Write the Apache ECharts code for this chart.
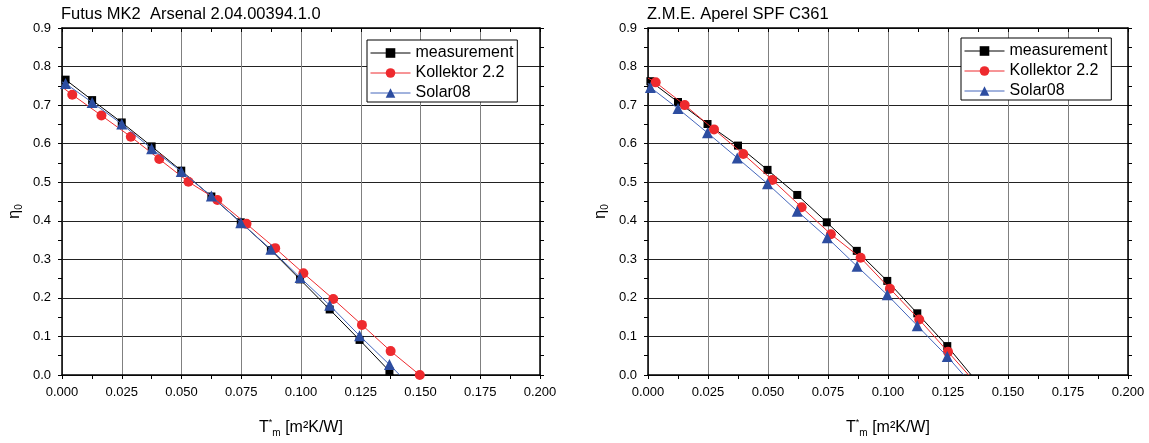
<!DOCTYPE html>
<html><head><meta charset="utf-8">
<script src="https://cdn.jsdelivr.net/npm/echarts@6/dist/echarts.min.js"></script>
<style>html,body{margin:0;padding:0;background:#fff}#c{width:1149px;height:443px}</style>
</head><body><div id="c"></div>
<script>
const leftTitle = 'Futus MK2  Arsenal 2.04.00394.1.0';
const rightTitle = 'Z.M.E. Aperel SPF C361';
const seriesNames = ['measurement', 'Kollektor 2.2', 'Solar08'];
const xAxisName = 'T{sup|*}{sub|m} [m²K/W]';
const yAxisName = 'η{sub|0}';

// Left chart: Futus MK2
const leftMeasX = [0.0015, 0.0126, 0.025, 0.0375, 0.0499, 0.0625, 0.0748, 0.0874, 0.0996, 0.112, 0.1245, 0.137];
const leftMeasY = [0.766, 0.713, 0.655, 0.593, 0.530, 0.463, 0.396, 0.324, 0.248, 0.170, 0.091, 0.010];
const leftMeasEnds = [[0, 0.770], [0.1388, 0]];
const leftKollX = [0.0043, 0.0165, 0.0288, 0.0407, 0.0529, 0.065, 0.0772, 0.0892, 0.101, 0.1135, 0.1255, 0.1375, 0.1497];
const leftKollY = [0.727, 0.673, 0.618, 0.560, 0.501, 0.454, 0.392, 0.329, 0.264, 0.197, 0.130, 0.062, 0.0];
const leftKollEnds = [[0, 0.747], null];
const leftSolarX = [0.0015, 0.0126, 0.025, 0.0375, 0.0499, 0.0625, 0.0748, 0.0874, 0.0996, 0.112, 0.1245, 0.137];
const leftSolarY = [0.756, 0.707, 0.651, 0.587, 0.528, 0.464, 0.395, 0.326, 0.253, 0.181, 0.102, 0.027];
const leftSolarEnds = [[0, 0.760], [0.1413, 0]];

// Right chart: Z.M.E. Aperel
const rightMeasX = [0.001, 0.0125, 0.0248, 0.0375, 0.0498, 0.0622, 0.0745, 0.087, 0.0997, 0.1122, 0.1247];
const rightMeasY = [0.762, 0.708, 0.651, 0.595, 0.532, 0.467, 0.396, 0.322, 0.244, 0.160, 0.075];
const rightMeasEnds = [[0, 0.772], [0.1347, 0]];
const rightKollX = [0.0032, 0.0153, 0.0275, 0.0397, 0.0518, 0.064, 0.0762, 0.0886, 0.1008, 0.113, 0.125];
const rightKollY = [0.759, 0.700, 0.637, 0.573, 0.506, 0.435, 0.365, 0.304, 0.224, 0.144, 0.060];
const rightKollEnds = [[0, 0.770], [0.1336, 0]];
const rightSolarX = [0.001, 0.0125, 0.0248, 0.0372, 0.0498, 0.0622, 0.0747, 0.0871, 0.0997, 0.1122, 0.1247];
const rightSolarY = [0.746, 0.691, 0.628, 0.563, 0.496, 0.425, 0.356, 0.282, 0.208, 0.128, 0.048];
const rightSolarEnds = [[0, 0.757], [0.1315, 0]];

const FONT = "'Liberation Sans', Arial, sans-serif";
const styles = [
  { color: '#000000', line: '#000000', symbol: 'rect', size: 8 },
  { color: '#ee2a2e', line: '#ee2a2e', symbol: 'circle', size: 10 },
  { color: '#2d4da0', line: '#4466bb', symbol: 'triangle', size: 11 }
];

function buildData(xs, ys, ends) {
  const d = [];
  if (ends[0]) d.push({ value: ends[0], symbol: 'none' });
  xs.forEach((x, i) => d.push([x, ys[i]]));
  if (ends[1]) d.push({ value: ends[1], symbol: 'none' });
  return d;
}
function mkSeries(idx, xs, ys, ends, axisIdx) {
  const s = styles[idx];
  return {
    type: 'line', name: seriesNames[idx], xAxisIndex: axisIdx, yAxisIndex: axisIdx,
    data: buildData(xs, ys, ends), symbol: s.symbol, symbolSize: s.size, showAllSymbol: true,
    itemStyle: { color: s.color }, lineStyle: { color: s.line, width: 1 },
    animation: false, clip: true, z: 3 + idx
  };
}

const grids = [
  { left: 62, top: 28, width: 478, height: 355.5 },
  { left: 648, top: 28, width: 480, height: 356 }
];

function bottomX(g) {
  return {
    type: 'value', gridIndex: g, position: 'bottom', min: 0, max: 0.2, interval: 0.025,
    name: xAxisName, nameLocation: 'middle', nameGap: 43,
    nameTextStyle: { fontFamily: FONT, fontSize: 16, color: '#000',
      rich: { sup: { fontSize: 9, verticalAlign: 'top', padding: [0, 0, 10, 0], fontFamily: FONT, color: '#000' },
              sub: { fontSize: 10, verticalAlign: 'bottom', padding: [10, 0, 0, 0], fontFamily: FONT, color: '#000' } } },
    axisLine: { onZero: false, lineStyle: { color: '#000', width: 1.5 } },
    axisTick: { show: true, inside: false, length: 4, lineStyle: { color: '#000' } },
    minorTick: { show: true, splitNumber: 2, length: 4, lineStyle: { color: '#000' } },
    axisLabel: { fontFamily: FONT, fontSize: 13, color: '#000', margin: 11, formatter: v => v.toFixed(3) },
    splitLine: { show: true, lineStyle: { color: '#808080', width: 1 } }
  };
}
function topX(g) {
  return {
    type: 'value', gridIndex: g, position: 'top', min: 0, max: 0.2, interval: 0.025,
    axisLine: { onZero: false, lineStyle: { color: '#000', width: 1.5 } },
    axisTick: { show: true, inside: true, length: 4, lineStyle: { color: '#000' } },
    minorTick: { show: true, splitNumber: 2, length: 4, lineStyle: { color: '#000' } },
    axisLabel: { show: false }, splitLine: { show: false }
  };
}
function leftY(g) {
  return {
    type: 'value', gridIndex: g, position: 'left', min: 0, max: 0.9, interval: 0.1,
    name: yAxisName, nameLocation: 'middle', nameGap: 38, nameRotate: 90,
    nameTextStyle: { fontFamily: FONT, fontSize: 16, color: '#000', padding: [0, 20, 0, 0],
      rich: { sub: { fontSize: 10, verticalAlign: 'bottom', padding: [8, 0, 0, 0], fontFamily: FONT, color: '#000' } } },
    axisLine: { onZero: false, lineStyle: { color: '#000', width: 1.5 } },
    axisTick: { show: true, inside: false, length: 4, lineStyle: { color: '#000' } },
    minorTick: { show: true, splitNumber: 2, length: 4, lineStyle: { color: '#000' } },
    axisLabel: { fontFamily: FONT, fontSize: 13, color: '#000', margin: 11, formatter: v => v.toFixed(1) },
    splitLine: { show: true, lineStyle: { color: '#222', width: 1 } }
  };
}
function rightY(g) {
  return {
    type: 'value', gridIndex: g, position: 'right', min: 0, max: 0.9, interval: 0.1,
    axisLine: { onZero: false, lineStyle: { color: '#000', width: 1.5 } },
    axisTick: { show: true, inside: false, length: 4, lineStyle: { color: '#000' } },
    minorTick: { show: true, splitNumber: 2, length: 4, lineStyle: { color: '#000' } },
    axisLabel: { show: false }, splitLine: { show: false }
  };
}

function legendAt(left, top) {
  return {
    left: left, top: top, orient: 'vertical', data: seriesNames,
    backgroundColor: '#fff', borderColor: '#000', borderWidth: 1, borderRadius: 0,
    padding: [5, 4, 1, 3], itemGap: 4, itemWidth: 40, itemHeight: 12,
    lineStyle: { width: 1 },
    textStyle: { fontFamily: FONT, fontSize: 16, color: '#000' },
    selectedMode: false
  };
}

const chart = echarts.init(document.getElementById('c'), null, { renderer: 'canvas' });
chart.setOption({
  backgroundColor: '#fff',
  animation: false,
  title: [
    { text: leftTitle, left: 61, top: 6, padding: 0, textStyle: { fontFamily: FONT, fontSize: 16.5, fontWeight: 'normal', color: '#000' } },
    { text: rightTitle, left: 647, top: 6, padding: 0, textStyle: { fontFamily: FONT, fontSize: 16.5, fontWeight: 'normal', color: '#000' } }
  ],
  legend: [legendAt(367, 40), legendAt(961, 38)],
  grid: grids,
  xAxis: [bottomX(0), topX(0), bottomX(1), topX(1)],
  yAxis: [leftY(0), rightY(0), leftY(1), rightY(1)],
  series: [
    mkSeries(0, leftMeasX, leftMeasY, leftMeasEnds, 0),
    mkSeries(1, leftKollX, leftKollY, leftKollEnds, 0),
    mkSeries(2, leftSolarX, leftSolarY, leftSolarEnds, 0),
    mkSeries(0, rightMeasX, rightMeasY, rightMeasEnds, 2),
    mkSeries(1, rightKollX, rightKollY, rightKollEnds, 2),
    mkSeries(2, rightSolarX, rightSolarY, rightSolarEnds, 2)
  ]
});
</script></body></html>
